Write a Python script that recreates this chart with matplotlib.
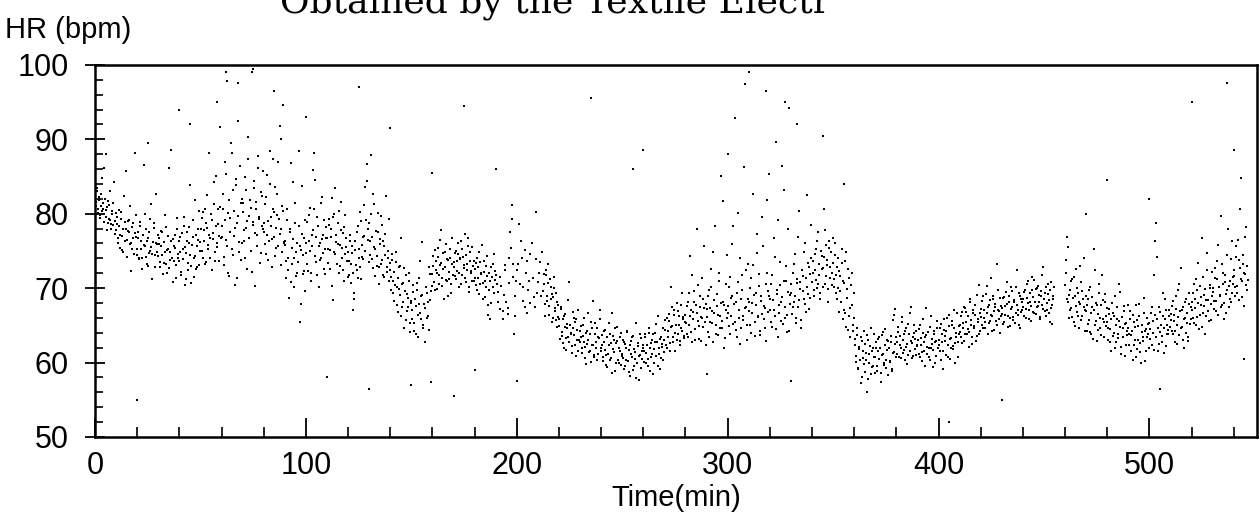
import matplotlib.pyplot as plt
import numpy as np
from matplotlib.ticker import MultipleLocator

nan = np.nan
step = 0.5  # minutes between samples of one pass
lag = 0.25  # second pass is read 15 s after the first

# heart rate samples (bpm)
t0_a = 0
hr_a = [  # 0 - 100 min
    82.4, 81.1, 83.0, 80.6, 81.9, 79.8, 82.7, 80.3, 81.5, 86.2, 79.6, 80.9, 78.7, 81.2, 79.1, 77.9, 80.4, 78.5, 84.3, 79.0,
    77.8, 79.6, 76.1, 78.3, 75.4, 80.2, 77.0, 74.8, 78.9, 85.7, 76.5, 77.7, 79.1, 75.9, 72.3, 78.2, 76.8, 74.6, 77.4, 79.8,
    75.2, 77.6, 73.9, 78.4, 76.3, 74.1, 86.5, 75.7, 77.9, 73.2, 76.8, 74.7, 79.3, 75.5, 71.2, 76.2, 78.1, 74.4, 82.6, 75.9,
    74.3, 76.8, 72.9, 75.6, 77.5, 73.4, 74.9, 78.2, 72.1, 75.3, 86.1, 73.8, 76.4, 74.0, 70.8, 75.7, 77.1, 73.1, 79.4, 74.6,
    73.6, 76.9, 71.8, 75.2, 78.3, 70.4, 74.7, 77.6, 72.5, 76.1, 83.9, 73.0, 75.8, 79.1, 71.5, 74.3, 77.2, 72.8, 76.5, 80.4,
    76.2, 79.4, 74.1, 77.8, 80.6, 73.5, 78.1, 75.3, 88.2, 76.7, 79.9, 72.4, 77.4, 81.3, 74.8, 85.1, 76.0, 78.6, 73.7, 80.9,
    78.3, 82.7, 74.2, 86.9, 76.5, 97.8, 80.1, 71.6, 79.4, 89.5, 75.3, 83.2, 77.0, 70.4, 84.6, 78.8, 92.4, 74.9, 81.5, 76.1,
    80.2, 76.4, 84.9, 78.1, 72.6, 87.3, 79.7, 81.8, 75.0, 99.1, 78.9, 83.5, 70.3, 80.6, 77.2, 86.1, 79.3, 74.7, 82.4, 78.0,
    77.5, 81.3, 74.6, 85.2, 79.0, 76.3, 88.4, 78.4, 72.9, 80.7, 76.9, 83.6, 75.4, 79.8, 86.9, 77.3, 73.1, 81.0, 94.6, 76.2,
    75.8, 71.3, 79.2, 74.0, 68.7, 77.5, 86.8, 73.2, 76.6, 70.1, 81.4, 74.9, 72.0, 78.3, 65.4, 75.1, 83.7, 71.9, 76.8, 69.6,
]
hr_a2 = [
    81.6, 83.4, 80.1, 82.2, 79.4, 81.0, 84.8, 80.7, 78.9, 82.0, 80.5, 77.8, 81.7, 79.3, 83.1, 78.6, 79.9, 81.4, 77.3, 80.1,
    78.6, 76.7, 80.5, 77.2, 79.3, 75.1, 78.0, 82.4, 76.3, 77.9, 74.2, 79.0, 77.5, 81.1, 76.0, 75.3, 78.7, 88.1, 76.9, 74.5,
    76.7, 74.0, 78.9, 75.3, 72.6, 77.1, 75.8, 79.9, 74.2, 76.4, 73.0, 77.5, 75.0, 81.3, 74.6, 78.8, 72.9, 76.1, 74.8, 77.2,
    75.9, 73.5, 77.7, 74.4, 71.9, 76.2, 79.8, 73.3, 75.1, 77.0, 72.7, 74.8, 88.6, 76.6, 73.7, 75.4, 71.4, 77.9, 74.1, 76.3,
    74.8, 72.2, 77.4, 73.9, 79.6, 75.5, 71.2, 76.4, 73.4, 78.2, 74.5, 70.7, 76.9, 74.0, 81.8, 72.6, 75.6, 77.9, 73.1, 75.0,
    77.9, 75.0, 80.2, 76.3, 73.2, 78.8, 82.5, 75.8, 77.2, 74.0, 79.1, 76.6, 84.3, 73.6, 78.4, 75.5, 80.7, 77.0, 91.6, 76.8,
    76.9, 80.6, 73.1, 79.2, 85.4, 75.7, 72.0, 81.9, 77.6, 88.2, 74.5, 80.3, 78.1, 83.8, 71.3, 79.7, 76.2, 86.4, 73.8, 82.0,
    81.4, 77.8, 74.1, 83.2, 79.0, 90.3, 76.7, 80.8, 72.2, 78.5, 84.4, 77.4, 81.6, 75.6, 87.8, 79.6, 73.4, 82.9, 78.3, 85.7,
    78.8, 75.9, 82.3, 77.1, 73.8, 84.0, 79.6, 76.6, 87.3, 80.2, 74.3, 78.1, 82.7, 75.7, 79.3, 91.8, 77.9, 74.8, 80.4, 76.0,
    76.3, 73.7, 80.6, 72.4, 77.9, 70.8, 75.4, 84.2, 74.0, 78.7, 71.6, 76.1, 73.5, 88.4, 75.7, 67.9, 77.3, 74.4, 72.3, 79.1,
]
t0_b = 100
hr_b = [  # 100 - 200 min
    74.7, 78.9, 72.3, 76.4, 80.8, 71.0, 75.6, 77.8, 88.1, 84.5, 73.5, 79.5, 70.2, 76.0, 74.1, 82.3, 77.1, 72.6, 75.3, 78.2,
    76.8, 73.4, 79.3, 75.1, 77.9, 82.1, 68.4, 80.0, 74.6, 76.2, 78.7, 72.1, 75.8, 81.6, 74.0, 77.4, 70.9, 79.8, 75.5, 73.7,
    74.9, 71.8, 77.2, 73.3, 75.6, 67.1, 69.4, 76.3, 72.5, 78.4, 74.1, 80.2, 71.2, 75.8, 73.9, 77.0, 83.6, 79.1, 86.7, 76.5,
    78.8, 74.4, 87.9, 76.9, 72.7, 81.3, 75.2, 73.0, 77.6, 70.6, 75.9, 79.7, 73.8, 76.4, 71.5, 74.5, 82.4, 72.2, 75.0, 70.9,
    72.4, 69.8, 74.6, 71.0, 68.3, 73.5, 70.2, 66.8, 72.9, 69.1, 76.8, 67.5, 70.7, 64.6, 69.6, 71.8, 66.9, 68.7, 72.1, 65.3,
    68.0, 65.9, 70.4, 64.2, 67.6, 69.8, 63.5, 71.3, 66.7, 68.9, 76.2, 65.1, 67.9, 62.8, 70.1, 69.3, 66.2, 72.8, 68.4, 57.4,
    71.9, 74.3, 69.7, 73.6, 72.0, 75.4, 70.5, 73.1, 77.8, 71.4, 74.7, 68.6, 72.8, 75.9, 70.9, 73.8, 71.2, 74.0, 69.3, 76.7,
    73.5, 71.6, 75.0, 72.3, 74.6, 70.1, 73.9, 76.4, 71.8, 74.2, 72.7, 77.3, 70.8, 73.3, 75.6, 69.5, 74.9, 72.1, 71.0, 73.7,
    72.6, 70.4, 74.1, 71.3, 69.2, 73.5, 71.9, 75.8, 70.7, 72.2, 68.8, 73.0, 71.6, 66.4, 69.7, 65.9, 72.9, 70.1, 74.6, 71.1,
    71.8, nan, 69.5, nan, 67.2, 70.3, nan, 65.8, nan, 72.4, 68.1, nan, 66.5, 74.0, 77.6, 81.2, 71.5, 63.9, 69.0, nan,
]
hr_b2 = [
    76.1, 73.2, 79.8, 75.0, 72.0, 77.2, 85.9, 80.6, 74.3, 76.9, 71.7, 78.4, 75.7, 73.8, 81.5, 76.6, 74.7, 79.2, 71.9, 76.8,
    75.2, 78.5, 72.6, 76.9, 70.3, 79.6, 74.8, 83.4, 77.2, 73.3, 75.9, 80.4, 73.0, 77.8, 75.4, 72.4, 78.2, 74.6, 76.7, 71.5,
    73.6, 76.4, 70.7, 74.7, 72.0, 68.6, 75.1, 73.1, 77.5, 71.4, 75.3, 72.8, 79.0, 74.2, 76.9, 81.2, 75.0, 84.4, 78.0, 73.5,
    76.3, 79.9, 73.9, 82.6, 75.5, 71.6, 77.7, 74.3, 80.1, 72.8, 76.6, 73.2, 78.5, 71.8, 75.7, 77.3, 72.9, 74.1, 79.3, 73.4,
    71.5, 73.8, 69.4, 72.2, 70.4, 74.9, 67.8, 71.4, 69.9, 73.0, 66.2, 70.5, 68.1, 72.7, 65.7, 69.2, 67.4, 70.9, 64.1, 68.3,
    67.1, 69.5, 65.3, 68.6, 63.9, 70.7, 66.4, 67.9, 73.6, 65.8, 69.1, 64.7, 67.3, 70.1, 66.0, 68.2, 64.4, 71.9, 69.6, 70.3,
    73.0, 70.8, 75.1, 72.5, 69.9, 74.2, 71.7, 76.5, 73.4, 70.3, 72.6, 74.9, 71.1, 73.9, 68.9, 72.2, 75.3, 70.6, 73.3, 71.8,
    72.8, 74.7, 71.2, 73.7, 76.0, 72.0, 74.1, 70.6, 75.2, 73.1, 71.4, 74.4, 72.5, 76.8, 70.2, 73.6, 72.3, 75.5, 73.0, 70.9,
    71.3, 73.4, 69.8, 72.8, 74.9, 70.5, 72.1, 68.6, 73.7, 71.0, 70.2, 74.3, 67.8, 72.0, 70.9, 68.0, 71.5, 73.2, 69.4, 72.3,
    nan, 70.6, 68.2, nan, 71.5, nan, 66.9, 69.1, 73.1, nan, nan, 67.3, 70.7, nan, 75.4, 79.3, 73.3, nan, 66.2, 71.0,
]
t0_c = 200
hr_c = [  # 200 - 300 min
    nan, 73.2, nan, 70.6, 76.4, nan, 68.3, nan, 75.1, 72.0, 66.7, 69.8, nan, 74.6, nan, 71.3, nan, 67.5, 80.2, 69.4,
    nan, 72.1, nan, 68.9, 74.8, nan, 70.5, 66.2, 71.7, 69.0, 73.2, 67.6, 70.1, 65.4, 68.8, 71.5, 66.9, 69.3, 64.8, 67.7,
    65.9, 63.2, 67.4, 64.1, 62.6, 66.3, 64.8, 61.7, 65.2, 63.5, 70.8, 64.0, 62.2, 66.8, 63.7, 65.5, 60.9, 64.4, 67.1, 63.0,
    62.7, 64.9, 61.3, 63.6, 66.0, 62.1, 59.8, 64.2, 63.0, 61.6, 65.4, 62.4, 68.3, 60.7, 63.9, 62.0, 64.6, 61.1, 63.3, 65.8,
    61.5, 63.7, 60.2, 62.8, 64.4, 61.0, 59.4, 62.3, 63.9, 60.6, 66.7, 61.8, 63.1, 58.9, 62.6, 64.8, 60.4, 61.9, 63.4, 59.7,
    61.2, 63.0, 59.1, 62.5, 60.3, 64.1, 61.7, 58.2, 62.9, 60.8, 63.6, 59.6, 61.4, 65.3, 60.0, 62.2, 57.6, 61.0, 63.3, 60.5,
    62.4, 60.1, 63.8, 61.3, 59.5, 64.6, 62.0, 60.7, 63.1, 58.4, 61.8, 64.0, 60.9, 62.7, 66.2, 61.1, 59.2, 63.5, 62.1, 60.3,
    63.0, 65.7, 61.9, 64.3, 66.5, 62.6, 70.2, 64.9, 63.4, 67.1, 61.5, 65.1, 68.0, 63.8, 66.2, 62.9, 64.6, 69.3, 65.9, 63.6,
    66.4, 63.9, 68.2, 65.1, 74.3, 67.0, 62.7, 66.8, 69.6, 64.5, 67.7, 77.9, 65.6, 63.2, 68.9, 66.1, 71.4, 64.8, 67.3, 62.4,
    67.2, 64.1, 69.8, 65.5, 72.6, 66.9, 62.8, 68.4, 78.3, 65.0, 67.6, 63.7, 70.9, 66.3, 85.1, 64.7, 68.1, 61.9, 67.0, 74.5,
]
hr_c2 = [
    72.5, nan, 78.6, nan, 74.0, 70.2, nan, 67.4, nan, 73.6, nan, 70.9, 68.0, nan, 76.1, nan, 68.8, nan, 73.9, nan,
    70.8, nan, 73.5, nan, 69.6, 71.9, 67.9, 72.4, 68.3, 70.7, 66.4, 71.2, 68.6, 69.2, 66.0, 70.0, 67.3, 65.7, 68.2, 66.1,
    64.9, 67.2, 63.6, 65.8, 62.0, 66.5, 63.3, 64.6, 68.4, 62.8, 65.1, 63.9, 61.3, 64.7, 66.0, 62.4, 65.9, 63.1, 61.6, 64.2,
    63.4, 61.9, 65.1, 62.7, 60.6, 64.0, 62.5, 66.6, 61.4, 63.8, 60.1, 64.7, 62.3, 61.0, 65.3, 62.8, 60.4, 63.5, 67.0, 62.0,
    62.4, 60.8, 64.2, 61.7, 59.7, 63.4, 61.2, 65.3, 60.3, 62.6, 58.6, 63.6, 61.4, 64.6, 60.0, 62.9, 59.9, 61.6, 64.0, 60.9,
    60.6, 62.8, 59.5, 61.9, 64.3, 60.2, 58.7, 62.4, 61.1, 63.5, 59.0, 61.8, 60.5, 57.9, 62.6, 60.9, 63.8, 59.3, 61.5, 62.0,
    61.6, 63.4, 59.9, 62.3, 60.5, 64.0, 58.9, 62.6, 61.2, 63.9, 60.0, 62.8, 65.2, 59.6, 61.9, 63.2, 60.6, 62.5, 64.7, 61.4,
    64.4, 62.3, 66.0, 63.5, 65.6, 61.6, 64.8, 67.5, 62.8, 66.4, 64.0, 63.0, 66.9, 65.0, 62.4, 67.8, 64.2, 66.1, 63.3, 65.4,
    65.3, 67.6, 63.5, 69.4, 66.2, 64.1, 71.8, 65.9, 68.1, 63.0, 66.7, 70.4, 64.9, 67.5, 62.9, 66.0, 68.6, 75.6, 65.5, 67.9,
    66.1, 68.9, 63.4, 67.3, 70.2, 65.3, 74.8, 66.7, 63.9, 69.2, 66.4, 72.1, 64.6, 68.0, 65.6, 81.7, 67.7, 63.3, 70.6, 66.0,
]
t0_d = 300
hr_d = [  # 300 - 400 min
    66.6, 70.2, 63.8, 68.7, 75.9, 65.2, 67.9, 92.8, 64.4, 69.3, 80.1, 66.0, 62.5, 68.5, 71.7, 65.7, 97.4, 67.4, 63.1, 73.2,
    68.2, 65.0, 71.4, 66.7, 82.6, 69.1, 63.6, 67.8, 74.7, 66.2, 70.3, 64.3, 68.9, 79.5, 65.8, 67.3, 62.9, 72.1, 69.6, 85.4,
    67.1, 70.6, 64.8, 68.4, 76.8, 66.3, 89.7, 69.2, 63.4, 67.7, 73.5, 65.6, 68.8, 83.2, 66.0, 71.0, 64.1, 69.5, 94.2, 67.9,
    69.4, 66.5, 72.0, 68.1, 74.6, 65.3, 70.7, 67.4, 80.3, 69.9, 64.7, 71.6, 68.6, 76.1, 66.8, 70.1, 73.4, 67.2, 71.9, 78.5,
    70.8, 73.6, 68.9, 72.4, 75.2, 70.0, 77.5, 71.8, 69.4, 74.3, 72.7, 80.6, 70.5, 75.8, 73.1, 68.2, 76.4, 71.3, 74.9, 72.0,
    73.4, 70.2, 76.0, 71.7, 68.5, 74.1, 72.3, 69.6, 75.3, 70.9, 67.1, 73.7, 64.8, 69.9, 72.6, 66.3, 63.5, 70.4, 67.8, 65.0,
    66.0, 62.4, 60.1, 63.7, 59.3, 61.8, 57.2, 62.9, 60.6, 64.2, 58.7, 61.3, 56.1, 63.0, 60.0, 62.2, 58.4, 61.5, 59.6, 63.9,
    60.8, 62.7, 58.9, 61.6, 63.4, 57.4, 61.0, 64.1, 59.7, 62.3, 60.4, 63.0, 58.3, 61.9, 60.2, 62.8, 59.1, 65.7, 61.4, 67.2,
    63.5, 61.2, 64.8, 62.4, 60.6, 66.1, 63.0, 61.7, 64.3, 62.1, 59.8, 65.2, 63.8, 61.5, 67.4, 62.6, 60.9, 64.0, 63.2, 61.0,
    62.2, 64.5, 60.7, 63.3, 61.4, 65.9, 62.8, 59.6, 63.7, 61.1, 64.1, 62.0, 60.3, 66.3, 62.5, 61.7, 63.9, 59.9, 62.9, 64.7,
]
hr_d2 = [
    67.6, 64.9, 71.5, 66.3, 69.0, 78.4, 65.5, 68.2, 63.5, 70.8, 67.1, 74.0, 64.6, 69.7, 66.2, 86.3, 67.3, 72.4, 65.1, 68.6,
    66.9, 70.0, 64.0, 68.0, 73.1, 65.4, 69.4, 77.3, 66.1, 71.9, 63.7, 68.3, 66.5, 75.6, 67.6, 64.6, 70.6, 81.8, 66.8, 69.0,
    68.5, 65.4, 71.8, 67.0, 74.2, 64.5, 69.8, 79.2, 66.6, 70.4, 68.1, 86.4, 65.2, 70.9, 67.5, 73.0, 66.4, 77.9, 64.3, 69.1,
    70.5, 67.5, 73.3, 69.0, 66.0, 71.2, 76.9, 68.4, 70.8, 65.7, 72.4, 69.6, 74.8, 67.9, 71.3, 82.5, 69.2, 72.9, 68.7, 74.1,
    72.1, 69.8, 74.6, 71.1, 76.3, 70.6, 73.2, 68.5, 75.0, 72.6, 70.1, 74.2, 77.8, 71.6, 73.8, 69.9, 75.4, 72.8, 70.4, 76.7,
    71.2, 74.5, 69.3, 72.9, 70.0, 66.8, 71.6, 68.2, 73.4, 65.9, 70.7, 66.6, 74.8, 68.7, 64.4, 71.4, 67.3, 72.1, 64.2, 69.4,
    63.2, 60.9, 64.7, 59.1, 62.1, 60.4, 63.5, 58.0, 61.6, 59.8, 62.5, 60.3, 63.7, 57.8, 61.1, 64.6, 59.4, 62.0, 60.8, 58.6,
    61.9, 59.6, 63.2, 60.5, 62.0, 58.6, 63.7, 61.2, 60.0, 64.5, 59.3, 61.7, 62.9, 60.1, 63.6, 58.9, 61.3, 66.4, 62.5, 60.7,
    62.7, 64.1, 60.8, 63.6, 62.0, 65.4, 61.3, 63.9, 60.3, 64.6, 62.5, 61.0, 66.7, 62.9, 60.6, 63.4, 65.0, 61.8, 64.2, 62.3,
    63.0, 61.2, 65.1, 62.4, 60.2, 64.0, 61.6, 63.5, 67.3, 62.1, 60.8, 64.8, 61.9, 63.2, 59.4, 64.3, 62.7, 60.9, 65.6, 62.0,
]
t0_e = 400
hr_e = [  # 400 - 455 min
    63.1, 61.6, 65.2, 62.7, 59.2, 64.4, 63.6, 61.0, 66.0, 62.3, 64.9, 60.5, 63.3, 65.6, 61.8, 67.1, 62.6, 64.0, 60.8, 63.9,
    65.0, 63.4, 66.8, 64.6, 62.9, 67.3, 65.4, 63.8, 66.2, 64.1, 68.5, 65.7, 62.5, 66.6, 64.9, 67.8, 63.6, 65.9, 70.4, 64.3,
    66.1, 68.3, 64.7, 67.0, 65.4, 69.2, 66.7, 63.9, 67.8, 65.6, 71.3, 66.3, 68.6, 64.4, 67.4, 65.1, 69.7, 66.9, 64.0, 67.6,
    67.3, 65.2, 68.8, 66.4, 69.5, 67.9, 64.8, 68.1, 66.0, 70.2, 67.5, 65.7, 68.4, 66.6, 72.4, 67.1, 65.0, 69.0, 66.8, 68.2,
    68.5, 66.3, 69.8, 67.2, 70.6, 68.0, 65.8, 69.3, 67.6, 71.5, 68.8, 66.7, 69.9, 67.4, 70.3, 68.2, 66.1, 69.6, 67.8, 72.8,
    68.6, 66.9, 70.1, 67.0, 69.2, 68.4, 65.5, 70.8, 67.7, 69.0,
]
hr_e2 = [
    62.4, 64.6, 60.3, 63.8, 61.5, 65.8, 62.9, 64.2, 60.7, 66.4, 63.2, 61.9, 65.0, 62.2, 64.7, 60.0, 63.5, 66.7, 62.8, 64.9,
    64.1, 66.2, 62.6, 65.3, 67.5, 63.9, 66.8, 64.5, 62.1, 68.2, 65.1, 63.5, 67.0, 64.7, 66.4, 62.9, 69.1, 65.5, 63.8, 66.6,
    67.2, 65.1, 68.9, 66.0, 64.6, 70.3, 67.5, 65.3, 68.4, 66.4, 64.2, 69.0, 66.9, 67.9, 65.6, 73.2, 67.0, 65.8, 68.7, 66.2,
    66.5, 68.7, 65.4, 67.6, 70.8, 66.3, 68.9, 64.9, 67.2, 69.6, 66.1, 68.1, 65.3, 70.1, 67.8, 66.4, 69.3, 64.6, 68.5, 67.0,
    67.4, 69.5, 66.0, 68.7, 70.9, 67.1, 68.2, 65.6, 69.7, 66.8, 71.1, 68.1, 66.5, 70.0, 67.6, 69.1, 65.9, 68.9, 71.8, 67.2,
    69.4, 66.3, 68.0, 70.5, 66.6, 69.8, 67.3, 65.2, 68.6, 70.2,
]
t0_f = 460
hr_f = [  # 460 - 547 min
    70.4, 73.8, 76.9, 68.2, 66.0, 69.7, 67.3, 71.2, 65.4, 68.9, 72.6, 66.8, 69.4, 64.7, 67.9, 70.8, 66.2, 68.5, 74.1, 67.0,
    66.9, 64.3, 68.6, 65.7, 70.1, 63.8, 67.4, 75.2, 65.1, 68.0, 62.9, 66.5, 69.3, 64.6, 67.7, 71.8, 65.9, 63.4, 68.2, 66.2,
    65.4, 63.1, 67.2, 64.5, 61.6, 66.6, 64.0, 68.9, 62.7, 65.8, 63.9, 70.5, 64.8, 61.2, 66.1, 63.5, 67.6, 65.2, 62.4, 64.3,
    64.6, 62.3, 66.9, 63.7, 60.4, 65.5, 63.0, 67.8, 61.8, 64.9, 66.3, 62.6, 59.9, 65.1, 63.4, 68.7, 64.2, 61.5, 66.0, 63.8,
    65.3, 63.2, 67.5, 64.0, 61.7, 66.4, 78.8, 74.2, 64.7, 62.5, 66.8, 65.0, 63.6, 69.4, 61.3, 65.8, 67.1, 63.9, 64.4, 66.2,
    66.5, 64.2, 68.3, 65.6, 62.8, 67.2, 65.0, 69.8, 63.7, 66.9, 72.7, 64.8, 67.5, 61.9, 66.0, 68.6, 65.3, 63.4, 67.9, 65.8,
    67.0, 69.4, 65.3, 68.6, 71.2, 66.1, 68.0, 64.5, 70.3, 67.7, 76.8, 66.6, 69.1, 63.9, 68.4, 72.5, 66.9, 70.0, 65.7, 68.9,
    69.5, 67.2, 71.4, 68.3, 73.6, 66.4, 70.2, 68.9, 79.7, 67.8, 72.1, 65.9, 70.8, 69.2, 74.4, 67.5, 71.0, 68.1, 76.3, 70.5,
    71.6, 69.0, 74.2, 70.3, 76.5, 68.4, 72.7, 84.8, 70.9, 73.3, 67.6, 71.9, 78.2, 69.7,
]
hr_f2 = [
    72.0, 68.6, 75.5, 69.1, 67.0, 70.9, 66.1, 68.7, 71.5, 64.9, 67.6, 70.0, 66.3, 68.2, 73.0, 65.7, 69.6, 67.5, 64.3, 69.0,
    67.7, 65.2, 69.8, 64.1, 66.6, 68.8, 63.2, 67.1, 72.4, 65.6, 67.8, 64.4, 70.6, 66.0, 63.7, 68.4, 65.4, 69.2, 64.9, 67.3,
    64.7, 66.5, 62.8, 65.9, 68.0, 63.6, 66.2, 61.9, 65.1, 67.4, 63.3, 65.6, 69.5, 62.1, 64.6, 66.9, 60.9, 65.3, 63.7, 67.7,
    63.9, 65.8, 61.6, 64.3, 66.4, 62.4, 64.8, 60.8, 65.7, 63.1, 67.9, 61.4, 64.1, 62.9, 66.6, 60.2, 64.5, 63.4, 65.2, 62.0,
    64.5, 66.7, 62.4, 65.6, 71.8, 76.3, 63.5, 65.9, 61.6, 67.4, 64.1, 62.7, 66.3, 64.6, 68.5, 62.2, 65.1, 63.8, 67.0, 64.8,
    65.7, 67.6, 63.9, 66.4, 64.3, 68.9, 62.5, 66.1, 70.5, 64.6, 67.0, 63.1, 65.8, 68.1, 64.0, 66.7, 62.9, 69.4, 65.2, 67.4,
    68.2, 66.0, 70.6, 67.3, 65.0, 69.7, 73.4, 66.4, 68.8, 64.8, 71.5, 67.6, 69.9, 66.2, 74.7, 68.4, 65.6, 70.4, 67.9, 72.2,
    70.0, 68.3, 72.7, 66.9, 71.2, 75.8, 69.1, 67.4, 73.3, 70.6, 68.0, 71.8, 66.6, 69.8, 77.9, 70.3, 68.6, 73.9, 69.3, 71.5,
    72.4, 70.1, 75.6, 69.3, 73.8, 80.6, 71.2, 68.8, 74.5, 72.0, 76.9, 70.4, 73.0, 71.1,
]

# isolated stray beats far from the main band
stray_t = [5, 25, 40, 45, 58, 62, 68, 75, 85, 88, 100, 110, 125, 130, 140, 150, 160, 170,
           175, 180, 190, 200, 235, 255, 260, 290, 300, 310, 318, 327, 330, 333, 345, 355,
           405, 430, 470, 480, 500, 505, 520, 537, 540, 545, 20]
stray_hr = [88.0, 89.5, 94.0, 92.0, 95.0, 99.0, 97.5, 99.4, 96.5, 90.0, 93.0, 58.0, 97.0, 56.5,
            91.5, 57.0, 85.5, 55.5, 94.5, 59.0, 86.0, 57.5, 95.5, 86.0, 88.5, 58.5, 88.0, 99.0,
            96.5, 95.0, 57.5, 92.0, 90.5, 84.0, 52.0, 55.0, 80.0, 84.5, 82.0, 56.5, 95.0, 97.5,
            88.5, 60.5, 55.0]

segments = [
    (t0_a, hr_a, hr_a2), (t0_b, hr_b, hr_b2), (t0_c, hr_c, hr_c2),
    (t0_d, hr_d, hr_d2), (t0_e, hr_e, hr_e2), (t0_f, hr_f, hr_f2),
]

fig = plt.figure(figsize=(12.6, 5.19), dpi=100)
ax = fig.add_axes([0.0754, 0.158, 0.9222, 0.717])

for t0, hr1, hr2 in segments:
    t1 = t0 + step * np.arange(len(hr1))
    t2 = t0 + lag + step * np.arange(len(hr2))
    ax.scatter(t1, hr1, s=4, c='black', marker='s', linewidths=0)
    ax.scatter(t2, hr2, s=4, c='black', marker='s', linewidths=0)
ax.scatter(stray_t, stray_hr, s=2.5, c='black', marker='s', linewidths=0)

ax.set_xlim(0, 551)
ax.set_ylim(50, 100)
ax.xaxis.set_major_locator(MultipleLocator(100))
ax.xaxis.set_minor_locator(MultipleLocator(20))
ax.yaxis.set_major_locator(MultipleLocator(10))
ax.yaxis.set_minor_locator(MultipleLocator(2))
ax.tick_params(axis='x', which='major', direction='in', length=14, width=1.3, pad=10, labelsize=22)
ax.tick_params(axis='x', which='minor', direction='in', length=7, width=1.2)
ax.tick_params(axis='y', which='major', direction='inout', length=14, width=1.3, pad=12, labelsize=22)
ax.tick_params(axis='y', which='minor', direction='in', length=6, width=1.2)
for lab in ax.get_xticklabels() + ax.get_yticklabels():
    lab.set_family('Liberation Sans')
for sp in ax.spines.values():
    sp.set_linewidth(1.8)

ax.set_xlabel('Time(min)', fontsize=21, family='Liberation Sans', labelpad=2)
fig.text(0.004, 0.942, 'HR (bpm)', fontsize=21, family='Liberation Sans', va='center', ha='left')
# the scan crops the top of the title, keep it partly off the page like the reference
fig.text(0.222, 0.975, 'Obtained by the Textile Electr', fontsize=26, family='DejaVu Serif',
         va='baseline', ha='left')

fig.savefig('out.png', dpi=100)
